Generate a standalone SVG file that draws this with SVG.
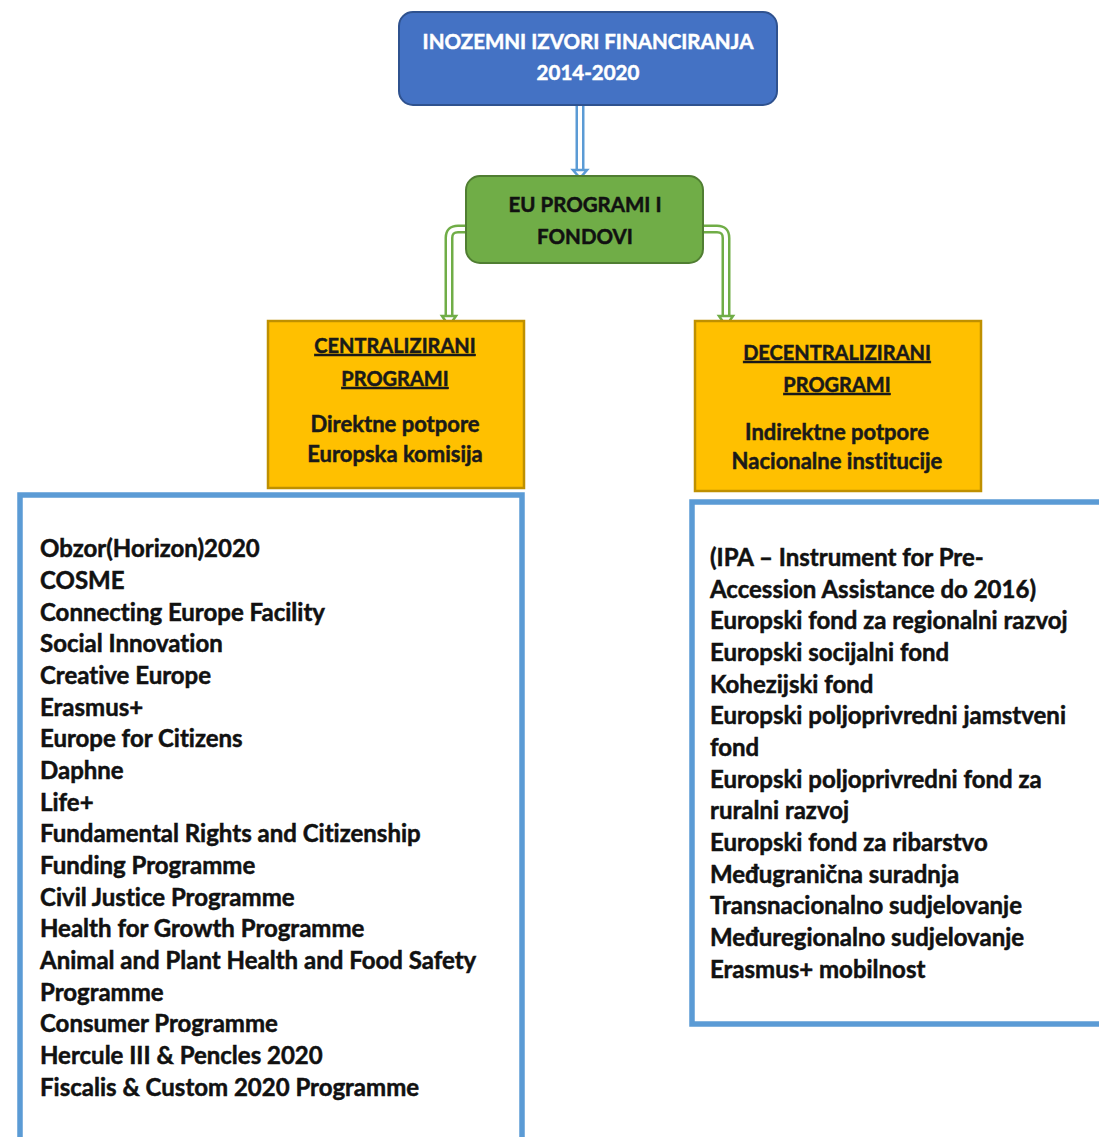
<svg xmlns="http://www.w3.org/2000/svg" width="1099" height="1137" viewBox="0 0 1099 1137">
<style>
text { font-family: Lato, "Open Sans", "Liberation Sans", sans-serif; font-weight: bold; stroke-width: 0.5; font-variant-ligatures: none; font-feature-settings: "liga" 0, "clig" 0; }
.hdr { font-size: 20.5px; fill: #ffffff; stroke: #ffffff; text-anchor: middle; }
.grn { font-size: 20.5px; fill: #111111; stroke: #111111; text-anchor: middle; }
.yel { font-size: 22px; fill: #1a1a1a; stroke: #1a1a1a; text-anchor: middle; }
.ycap { font-size: 20px; }
.ul { text-decoration: underline; }
.lst { font-size: 24px; fill: #111111; stroke: #111111; }
.list-box { fill: #ffffff; stroke: #5B9BD5; stroke-width: 5.5; }
.y-box { fill: #FFC000; stroke: #BF9000; stroke-width: 2.5; }
.outer-b { fill: none; stroke: #5B9BD5; stroke-width: 9; }
.outer-g { fill: none; stroke: #70AD47; stroke-width: 9; }
.inner { fill: none; stroke: #ffffff; stroke-width: 4; }
</style>
<rect width="1099" height="1137" fill="#ffffff"/>

<g id="connectors">
  <path class="outer-b" d="M580 106 V172"/>
  <path class="inner" d="M580 106 V172"/>
  <polygon points="573,170 587,170 580,178" fill="#ffffff" stroke="#5B9BD5" stroke-width="2.5"/>

  <path class="outer-g" d="M467 229 H458 Q449 229 449 238 V318"/>
  <path class="inner" d="M467 229 H458 Q449 229 449 238 V318"/>
  <polygon points="442,316 456,316 449,326" fill="#ffffff" stroke="#70AD47" stroke-width="2.5"/>

  <path class="outer-g" d="M701 229 H717 Q726 229 726 238 V318"/>
  <path class="inner" d="M701 229 H717 Q726 229 726 238 V318"/>
  <polygon points="719,316 733,316 726,326" fill="#ffffff" stroke="#70AD47" stroke-width="2.5"/>
</g>

<g id="node-top">
  <rect x="399" y="12" width="378" height="93" rx="14" fill="#4472C4" stroke="#2F528F" stroke-width="2"/>
  <text class="hdr" x="588" y="49">INOZEMNI IZVORI FINANCIRANJA</text>
  <text class="hdr" x="588" y="80">2014-2020</text>
</g>

<g id="node-eu">
  <rect x="466" y="176" width="237" height="87" rx="14" fill="#70AD47" stroke="#507E32" stroke-width="2"/>
  <text class="grn" x="585" y="212">EU PROGRAMI I</text>
  <text class="grn" x="585" y="244">FONDOVI</text>
</g>

<g id="node-central">
  <rect class="y-box" x="268" y="321" width="256" height="167"/>
  <text class="yel ycap ul" x="395" y="353">CENTRALIZIRANI</text>
  <text class="yel ycap ul" x="395" y="386">PROGRAMI</text>
  <text class="yel" x="395" y="432">Direktne potpore</text>
  <text class="yel" x="395" y="462">Europska komisija</text>
</g>

<g id="node-decentral">
  <rect class="y-box" x="695" y="321" width="286" height="170"/>
  <text class="yel ycap ul" x="837" y="360">DECENTRALIZIRANI</text>
  <text class="yel ycap ul" x="837" y="392">PROGRAMI</text>
  <text class="yel" x="837" y="440">Indirektne potpore</text>
  <text class="yel" x="837" y="469">Nacionalne institucije</text>
</g>

<g id="list-central">
  <rect class="list-box" x="20" y="495" width="502" height="660"/>
  <text class="lst" x="40" y="557">Obzor(Horizon)2020</text>
  <text class="lst" x="40" y="589">COSME</text>
  <text class="lst" x="40" y="621">Connecting Europe Facility</text>
  <text class="lst" x="40" y="652">Social Innovation</text>
  <text class="lst" x="40" y="684">Creative Europe</text>
  <text class="lst" x="40" y="716">Erasmus+</text>
  <text class="lst" x="40" y="747">Europe for Citizens</text>
  <text class="lst" x="40" y="779">Daphne</text>
  <text class="lst" x="40" y="811">Life+</text>
  <text class="lst" x="40" y="842">Fundamental Rights and Citizenship</text>
  <text class="lst" x="40" y="874">Funding Programme</text>
  <text class="lst" x="40" y="906">Civil Justice Programme</text>
  <text class="lst" x="40" y="937">Health for Growth Programme</text>
  <text class="lst" x="40" y="969">Animal and Plant Health and Food Safety</text>
  <text class="lst" x="40" y="1001">Programme</text>
  <text class="lst" x="40" y="1032">Consumer Programme</text>
  <text class="lst" x="40" y="1064">Hercule III &amp; Pencles 2020</text>
  <text class="lst" x="40" y="1096">Fiscalis &amp; Custom 2020 Programme</text>
</g>

<g id="list-decentral">
  <rect class="list-box" x="692" y="502" width="420" height="522"/>
  <text class="lst" x="710" y="566">(IPA – Instrument for Pre-</text>
  <text class="lst" x="710" y="598">Accession Assistance do 2016)</text>
  <text class="lst" x="710" y="629">Europski fond za regionalni razvoj</text>
  <text class="lst" x="710" y="661">Europski socijalni fond</text>
  <text class="lst" x="710" y="693">Kohezijski fond</text>
  <text class="lst" x="710" y="724">Europski poljoprivredni jamstveni</text>
  <text class="lst" x="710" y="756">fond</text>
  <text class="lst" x="710" y="788">Europski poljoprivredni fond za</text>
  <text class="lst" x="710" y="819">ruralni razvoj</text>
  <text class="lst" x="710" y="851">Europski fond za ribarstvo</text>
  <text class="lst" x="710" y="883">Međugranična suradnja</text>
  <text class="lst" x="710" y="914">Transnacionalno sudjelovanje</text>
  <text class="lst" x="710" y="946">Međuregionalno sudjelovanje</text>
  <text class="lst" x="710" y="978">Erasmus+ mobilnost</text>
</g>
</svg>
